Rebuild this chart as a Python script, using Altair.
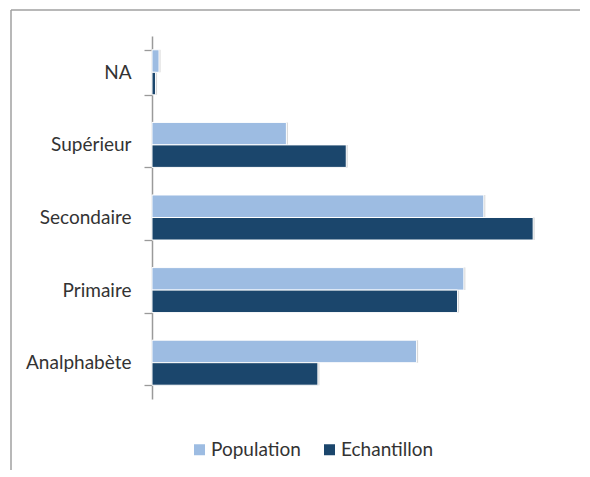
import altair as alt
import pandas as pd

categories = ["NA", "Supérieur", "Secondaire", "Primaire", "Analphabète"]
series = ["Population", "Echantillon"]
population = [0.67, 12.8, 31.6, 29.7, 25.2]
echantillon = [0.34, 18.5, 36.3, 29.1, 15.8]
colors = ["#9DBCE2", "#1B466C"]

rows = []
for c, p, e in zip(categories, population, echantillon):
    rows.append({"cat": c, "serie": "Population", "val": p})
    rows.append({"cat": c, "serie": "Echantillon", "val": e})
df = pd.DataFrame(rows)

FONT = "Lato"

y_enc = alt.Y("cat:N", sort=categories, title=None,
              scale=alt.Scale(paddingInner=0.38, paddingOuter=0.19),
              axis=alt.Axis(tickBand="extent", tickSize=8, tickColor="#9A9A9A",
                            tickWidth=1.3, domainColor="#9A9A9A", domainWidth=1.5,
                            labelFont=FONT, labelFontSize=19, labelColor="#333333",
                            labelPadding=13, grid=False))
yoff = alt.YOffset("serie:N", sort=series, scale=alt.Scale(paddingInner=0, paddingOuter=0))
x_enc = alt.X("val:Q", scale=alt.Scale(domain=[0, 40], nice=False), axis=None)

base = alt.Chart(df)

shadow = base.mark_bar(color="#000000", opacity=0.16, xOffset=1.5, yOffset=2.5).encode(
    y=y_enc, yOffset=yoff, x=x_enc)

bars = base.mark_bar(stroke="white", strokeWidth=1).encode(
    y=y_enc, yOffset=yoff, x=x_enc,
    color=alt.Color("serie:N", sort=series,
                    scale=alt.Scale(domain=series, range=colors),
                    legend=alt.Legend(title=None, orient="none", direction="horizontal",
                                      legendX=38, legendY=404, padding=0,
                                      symbolType="square", symbolSize=121,
                                      symbolStrokeWidth=0, labelFont=FONT,
                                      labelFontSize=19, labelColor="#333333",
                                      labelOffset=2, columnPadding=19)))

one = alt.Chart(pd.DataFrame({"a": [0]}))
top_line = one.mark_rule(color="#A0A0A0", strokeWidth=1.5).encode(
    x=alt.value(-141), x2=alt.value(428), y=alt.value(-26), y2=alt.value(-26))
left_line = one.mark_rule(color="#A0A0A0", strokeWidth=1.5).encode(
    x=alt.value(-141), x2=alt.value(-141), y=alt.value(-26), y2=alt.value(434))

chart = alt.layer(top_line, left_line, shadow, bars).properties(
    width=420, height=363,
    padding={"left": 2, "top": 1, "right": 0, "bottom": 0},
    background="white",
).configure_view(stroke=None)

chart.save("out.html", embed_options={"renderer": "svg", "actions": False})
